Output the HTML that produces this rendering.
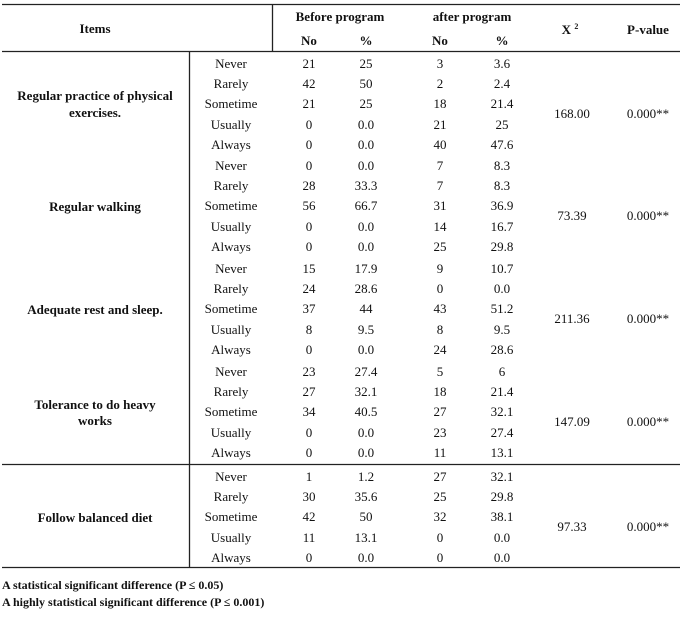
<!DOCTYPE html>
<html><head><style>
body{margin:0;background:#fff}
svg text{font-family:"Liberation Serif",serif;font-size:13px;fill:#111}
.b{font-weight:bold}
</style></head><body>
<svg width="680" height="615" xmlns="http://www.w3.org/2000/svg">
<g stroke="#222" stroke-width="1.3">
<line x1="2" y1="4.5" x2="680" y2="4.5"/>
<line x1="2" y1="51.5" x2="680" y2="51.5"/>
<line x1="272.5" y1="4" x2="272.5" y2="51"/>
<line x1="189.5" y1="51" x2="189.5" y2="567"/>
<line x1="2" y1="464.5" x2="680" y2="464.5"/>
<line x1="2" y1="567.5" x2="680" y2="567.5"/>
</g>
<g text-anchor="middle">
<text class="b" x="95" y="33">Items</text>
<text class="b" x="340" y="21">Before program</text>
<text class="b" x="472" y="21">after program</text>
<text class="b" x="309" y="45">No</text><text class="b" x="366" y="45">%</text>
<text class="b" x="440" y="45">No</text><text class="b" x="502" y="45">%</text>
<text class="b" x="570" y="34">X <tspan font-size="8" dy="-5">2</tspan></text>
<text class="b" x="648" y="34">P-value</text>

<text class="b" x="95" y="100">Regular practice of physical</text>
<text class="b" x="95" y="117">exercises.</text>
<text class="b" x="95" y="211">Regular walking</text>
<text class="b" x="95" y="314">Adequate rest and sleep.</text>
<text class="b" x="95" y="409">Tolerance to do heavy</text>
<text class="b" x="95" y="425">works</text>
<text class="b" x="95" y="522">Follow balanced diet</text>

<text x="572" y="118">168.00</text><text x="648" y="118">0.000**</text>
<text x="572" y="220">73.39</text><text x="648" y="220">0.000**</text>
<text x="572" y="323">211.36</text><text x="648" y="323">0.000**</text>
<text x="572" y="426">147.09</text><text x="648" y="426">0.000**</text>
<text x="572" y="531">97.33</text><text x="648" y="531">0.000**</text>
</g>
<g text-anchor="middle">
<text x="231" y="68">Never</text><text x="309" y="68">21</text><text x="366" y="68">25</text><text x="440" y="68">3</text><text x="502" y="68">3.6</text>
<text x="231" y="88">Rarely</text><text x="309" y="88">42</text><text x="366" y="88">50</text><text x="440" y="88">2</text><text x="502" y="88">2.4</text>
<text x="231" y="108">Sometime</text><text x="309" y="108">21</text><text x="366" y="108">25</text><text x="440" y="108">18</text><text x="502" y="108">21.4</text>
<text x="231" y="129">Usually</text><text x="309" y="129">0</text><text x="366" y="129">0.0</text><text x="440" y="129">21</text><text x="502" y="129">25</text>
<text x="231" y="149">Always</text><text x="309" y="149">0</text><text x="366" y="149">0.0</text><text x="440" y="149">40</text><text x="502" y="149">47.6</text>

<text x="231" y="170">Never</text><text x="309" y="170">0</text><text x="366" y="170">0.0</text><text x="440" y="170">7</text><text x="502" y="170">8.3</text>
<text x="231" y="190">Rarely</text><text x="309" y="190">28</text><text x="366" y="190">33.3</text><text x="440" y="190">7</text><text x="502" y="190">8.3</text>
<text x="231" y="210">Sometime</text><text x="309" y="210">56</text><text x="366" y="210">66.7</text><text x="440" y="210">31</text><text x="502" y="210">36.9</text>
<text x="231" y="231">Usually</text><text x="309" y="231">0</text><text x="366" y="231">0.0</text><text x="440" y="231">14</text><text x="502" y="231">16.7</text>
<text x="231" y="251">Always</text><text x="309" y="251">0</text><text x="366" y="251">0.0</text><text x="440" y="251">25</text><text x="502" y="251">29.8</text>

<text x="231" y="273">Never</text><text x="309" y="273">15</text><text x="366" y="273">17.9</text><text x="440" y="273">9</text><text x="502" y="273">10.7</text>
<text x="231" y="293">Rarely</text><text x="309" y="293">24</text><text x="366" y="293">28.6</text><text x="440" y="293">0</text><text x="502" y="293">0.0</text>
<text x="231" y="313">Sometime</text><text x="309" y="313">37</text><text x="366" y="313">44</text><text x="440" y="313">43</text><text x="502" y="313">51.2</text>
<text x="231" y="334">Usually</text><text x="309" y="334">8</text><text x="366" y="334">9.5</text><text x="440" y="334">8</text><text x="502" y="334">9.5</text>
<text x="231" y="354">Always</text><text x="309" y="354">0</text><text x="366" y="354">0.0</text><text x="440" y="354">24</text><text x="502" y="354">28.6</text>

<text x="231" y="376">Never</text><text x="309" y="376">23</text><text x="366" y="376">27.4</text><text x="440" y="376">5</text><text x="502" y="376">6</text>
<text x="231" y="396">Rarely</text><text x="309" y="396">27</text><text x="366" y="396">32.1</text><text x="440" y="396">18</text><text x="502" y="396">21.4</text>
<text x="231" y="416">Sometime</text><text x="309" y="416">34</text><text x="366" y="416">40.5</text><text x="440" y="416">27</text><text x="502" y="416">32.1</text>
<text x="231" y="437">Usually</text><text x="309" y="437">0</text><text x="366" y="437">0.0</text><text x="440" y="437">23</text><text x="502" y="437">27.4</text>
<text x="231" y="457">Always</text><text x="309" y="457">0</text><text x="366" y="457">0.0</text><text x="440" y="457">11</text><text x="502" y="457">13.1</text>

<text x="231" y="481">Never</text><text x="309" y="481">1</text><text x="366" y="481">1.2</text><text x="440" y="481">27</text><text x="502" y="481">32.1</text>
<text x="231" y="501">Rarely</text><text x="309" y="501">30</text><text x="366" y="501">35.6</text><text x="440" y="501">25</text><text x="502" y="501">29.8</text>
<text x="231" y="521">Sometime</text><text x="309" y="521">42</text><text x="366" y="521">50</text><text x="440" y="521">32</text><text x="502" y="521">38.1</text>
<text x="231" y="542">Usually</text><text x="309" y="542">11</text><text x="366" y="542">13.1</text><text x="440" y="542">0</text><text x="502" y="542">0.0</text>
<text x="231" y="562">Always</text><text x="309" y="562">0</text><text x="366" y="562">0.0</text><text x="440" y="562">0</text><text x="502" y="562">0.0</text>
</g>
<text class="b" x="2" y="589" style="font-size:12px">A statistical significant difference (P ≤ 0.05)</text>
<text class="b" x="2" y="606" style="font-size:12px">A highly statistical significant difference (P ≤ 0.001)</text>
</svg>
</body></html>
